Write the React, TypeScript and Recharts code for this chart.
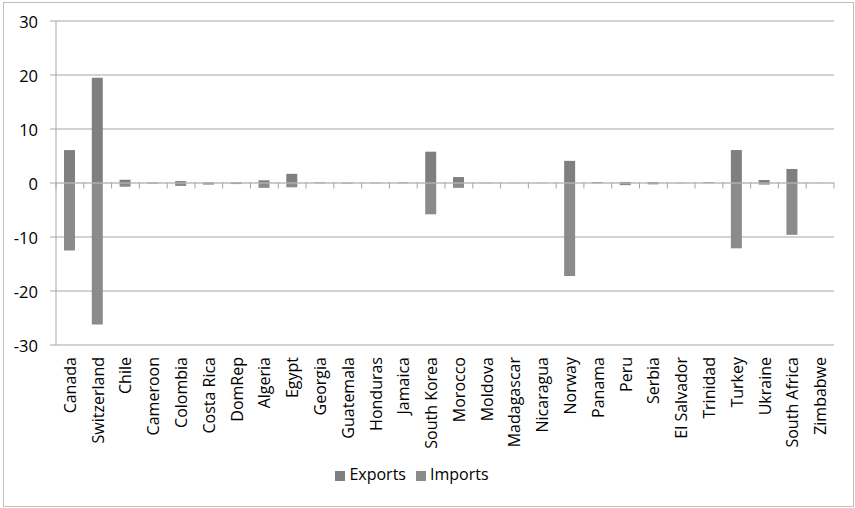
import {
  BarChart,
  Bar,
  XAxis,
  YAxis,
  CartesianGrid,
  Legend,
  ReferenceLine,
} from 'recharts';

const countries = [
  'Canada', 'Switzerland', 'Chile', 'Cameroon', 'Colombia', 'Costa Rica', 'DomRep',
  'Algeria', 'Egypt', 'Georgia', 'Guatemala', 'Honduras', 'Jamaica', 'South Korea',
  'Morocco', 'Moldova', 'Madagascar', 'Nicaragua', 'Norway', 'Panama', 'Peru',
  'Serbia', 'El Salvador', 'Trinidad', 'Turkey', 'Ukraine', 'South Africa', 'Zimbabwe',
];

const exportsValues = [
  6.1, 19.5, 0.6, 0.1, 0.35, 0.1, 0.1, 0.5, 1.7, 0.1, 0.05, 0.05, 0.1, 5.8,
  1.1, 0.05, 0.02, 0.03, 4.1, 0.15, 0.2, 0.15, 0.03, 0.15, 6.1, 0.55, 2.6, 0.02,
];

const importsValues = [
  -12.5, -26.2, -0.7, -0.1, -0.55, -0.3, -0.2, -0.9, -0.8, -0.05, -0.1, -0.05, -0.05, -5.8,
  -0.9, -0.05, -0.03, -0.03, -17.2, -0.05, -0.4, -0.25, -0.05, -0.03, -12.1, -0.3, -9.6, -0.02,
];

const yTicks = [-30, -20, -10, 0, 10, 20, 30];

const data = countries.map((name, i) => ({
  name,
  Exports: exportsValues[i],
  Imports: importsValues[i],
}));

const W = 855;
const H = 508;
const PLOT_TOP = 21;
const PLOT_BOTTOM = 344;
const AXIS_H = 118;
const FONT = 'Open Sans, sans-serif';
// y of the zero line, used to place the category tick marks
const ZERO_Y = PLOT_TOP + (PLOT_BOTTOM - PLOT_TOP) / 2;

function CategoryTick(props: any) {
  const { x, y, payload, index } = props;
  const half = payload.offset || 0;
  return (
    <g>
      <line x1={x - half} x2={x - half} y1={ZERO_Y} y2={ZERO_Y + 6} stroke="#a6a6a6" />
      {index === countries.length - 1 && (
        <line x1={x + half} x2={x + half} y1={ZERO_Y} y2={ZERO_Y + 6} stroke="#a6a6a6" />
      )}
      <text
        x={x}
        y={y + 4}
        transform={`rotate(-90, ${x}, ${y + 4})`}
        textAnchor="end"
        dominantBaseline="central"
        fontSize={16}
        fontFamily={FONT}
        fill="#000"
      >
        {payload.value}
      </text>
    </g>
  );
}

function YTick(props: any) {
  const { x, y, payload } = props;
  return (
    <text x={x - 10} y={y} textAnchor="end" dominantBaseline="central" fontSize={16.5} fontFamily={FONT} fill="#000">
      {payload.value}
    </text>
  );
}

export default function App() {
  return (
    <div style={{ position: 'absolute', left: 0, top: 0, width: W, height: H, background: '#fff' }}>
      <div
        style={{
          position: 'absolute',
          left: 3,
          top: 2,
          width: 849,
          height: 503,
          border: '1px solid #bfbfbf',
        }}
      />
      <BarChart
        width={W}
        height={H}
        data={data}
        stackOffset="sign"
        barSize={11}
        margin={{ top: PLOT_TOP, right: 21, left: 0, bottom: 6 }}
      >
        <CartesianGrid vertical={false} stroke="#a6a6a6" />
        <XAxis
          dataKey="name"
          interval={0}
          height={AXIS_H}
          axisLine={false}
          tickLine={false}
          tick={<CategoryTick />}
        />
        <YAxis
          domain={[-30, 30]}
          ticks={yTicks}
          width={56}
          axisLine={{ stroke: '#a6a6a6' }}
          tickLine={{ stroke: '#a6a6a6' }}
          tickSize={6}
          tick={<YTick />}
        />
        <Legend
          verticalAlign="bottom"
          height={39}
          iconType="square"
          iconSize={10}
          wrapperStyle={{ fontFamily: FONT, fontSize: 16, color: '#000' }}
          formatter={(value: string) => <span style={{ color: '#000' }}>{value}</span>}
        />
        <Bar dataKey="Exports" stackId="a" fill="#7f7f7f" isAnimationActive={false} />
        <Bar dataKey="Imports" stackId="a" fill="#8b8b8b" isAnimationActive={false} />
        <ReferenceLine y={0} stroke="#c4c4c4" />
      </BarChart>
    </div>
  );
}
